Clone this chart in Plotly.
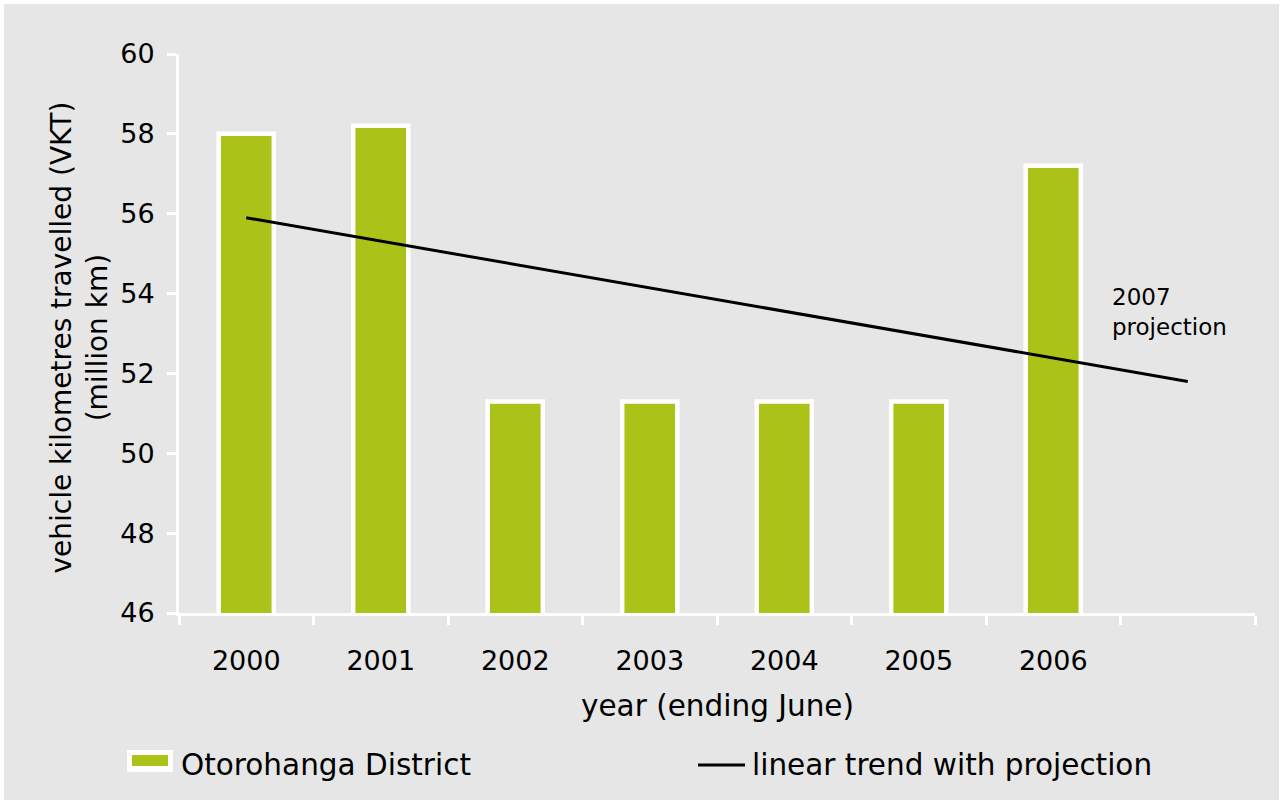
import plotly.graph_objects as go

years = ["2000", "2001", "2002", "2003", "2004", "2005", "2006"]
all_years = ["2000", "2001", "2002", "2003", "2004", "2005", "2006", "2007"]
tick_labels = ["2000", "2001", "2002", "2003", "2004", "2005", "2006", ""]
vkt = [58.0, 58.2, 51.3, 51.3, 51.3, 51.3, 57.2]
trend_years = ["2000", "2007"]
trend_values = [55.9, 51.8]
bar_name = "Otorohanga District"
trend_name = "linear trend with projection"

GREEN = "#abc319"
BG = "#e6e6e6"
FONT = "DejaVu Sans"

# plot area in page pixels (page has a 4px white border at top/left)
PX0, PX1, PY0, PY1 = 179, 1255, 54, 613


def px(X):
    return (X - PX0) / (PX1 - PX0)


def py(Y):
    return (PY1 - Y) / (PY1 - PY0)


fig = go.Figure()
fig.add_trace(go.Bar(
    x=years, y=vkt, name=bar_name,
    marker=dict(color=GREEN, line=dict(color="white", width=4.5)),
    width=0.41, showlegend=False,
))
fig.add_trace(go.Scatter(
    x=trend_years, y=trend_values, mode="lines", name=trend_name,
    line=dict(color="black", width=3), showlegend=False,
))

W, H = 1279, 796
fig.update_layout(
    width=W, height=H,
    margin=dict(l=PX0 - 4, r=W - (PX1 - 4), t=PY0 - 4, b=H - (PY1 - 4), autoexpand=False),
    paper_bgcolor=BG, plot_bgcolor=BG,
    font=dict(family=FONT, size=27, color="black"),
    showlegend=False,
)
fig.update_xaxes(
    type="category", categoryorder="array", categoryarray=all_years,
    tickmode="array", tickvals=all_years, ticktext=tick_labels,
    range=[-0.5, 7.5],
    showline=True, linecolor="white", linewidth=3,
    ticks="outside", tickson="boundaries", ticklen=9, tickwidth=3, tickcolor="white",
    showgrid=False, zeroline=False,
    tickfont=dict(size=27), ticklabelstandoff=22,
)
fig.update_yaxes(
    range=[46, 60], dtick=2, tick0=46,
    showline=True, linecolor="white", linewidth=3,
    ticks="outside", ticklen=9, tickwidth=3, tickcolor="white",
    showgrid=False, zeroline=False,
    tickfont=dict(size=27), ticklabelstandoff=7,
)

fig.add_annotation(
    text="vehicle kilometres travelled (VKT)<br>(million km)",
    xref="paper", yref="paper", x=px(78.5), y=py(338), xanchor="center", yanchor="middle",
    textangle=-90, showarrow=False, font=dict(size=28),
)
fig.add_annotation(
    text="year (ending June)", xref="paper", yref="paper", x=px(717), y=py(706),
    xanchor="center", yanchor="middle", showarrow=False, font=dict(size=29.5),
)
fig.add_annotation(
    text="2007<br>projection", x=6.42, y=53.55, xref="x", yref="y",
    xanchor="left", yanchor="middle", align="left", showarrow=False,
    font=dict(size=23),
)

# legend (drawn as keys + labels below the axis)
fig.add_shape(type="rect", xref="paper", yref="paper",
              x0=px(127), x1=px(173), y0=py(772), y1=py(750),
              fillcolor="white", line=dict(width=0))
fig.add_shape(type="rect", xref="paper", yref="paper",
              x0=px(132), x1=px(168), y0=py(766), y1=py(755),
              fillcolor=GREEN, line=dict(width=0))
fig.add_annotation(text=bar_name, xref="paper", yref="paper", x=px(179), y=py(765),
                   xanchor="left", yanchor="middle", showarrow=False, font=dict(size=29.5))
fig.add_shape(type="line", xref="paper", yref="paper",
              x0=px(698), x1=px(745), y0=py(765), y1=py(765),
              line=dict(color="black", width=3))
fig.add_annotation(text=trend_name, xref="paper", yref="paper", x=px(750), y=py(765),
                   xanchor="left", yanchor="middle", showarrow=False, font=dict(size=29.5))

fig.write_html("out.html", post_script="document.body.style.margin='4px';")
